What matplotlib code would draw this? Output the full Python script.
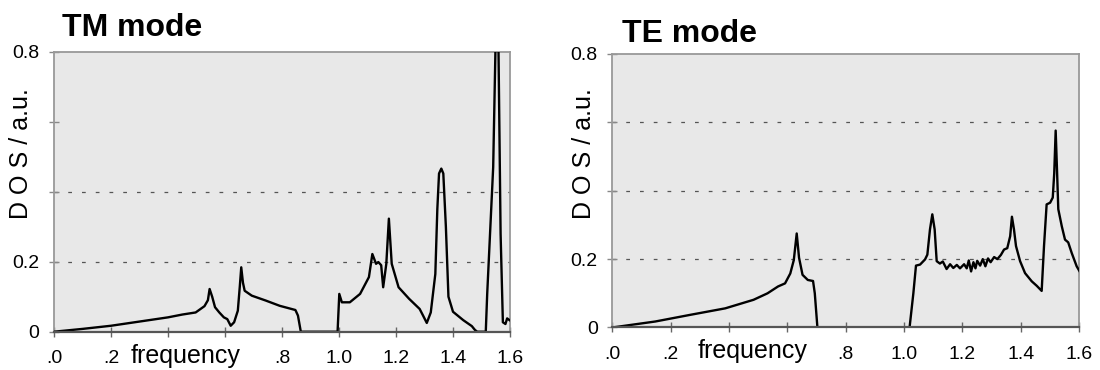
import matplotlib
matplotlib.use("Agg")
import matplotlib.pyplot as plt

plt.rcParams["font.family"] = ["Liberation Sans", "DejaVu Sans"]

# TM mode density of states
tm_freq = [0, 0.1, 0.2, 0.3, 0.4, 0.45, 0.497, 0.528, 0.54, 0.546, 0.555, 0.565,
           0.58, 0.596, 0.608, 0.62, 0.632, 0.645, 0.652, 0.657, 0.663, 0.669,
           0.694, 0.743, 0.792, 0.847, 0.856, 0.866, 0.995, 1.001, 1.01, 1.038,
           1.074, 1.105, 1.117, 1.13, 1.138, 1.148, 1.155, 1.166, 1.175, 1.185,
           1.209, 1.246, 1.283, 1.295, 1.308, 1.322, 1.338, 1.345, 1.351, 1.359,
           1.366, 1.375, 1.384, 1.4, 1.436, 1.466, 1.477, 1.485, 1.515, 1.52,
           1.541, 1.55, 1.559, 1.567, 1.575, 1.584, 1.59, 1.6, 1.605]
tm_dos = [0, 0.008, 0.017, 0.029, 0.041, 0.049, 0.055, 0.073, 0.09, 0.122, 0.1, 0.07,
          0.055, 0.041, 0.036, 0.017, 0.027, 0.06, 0.13, 0.184, 0.14, 0.117,
          0.103, 0.089, 0.074, 0.062, 0.046, 0, 0, 0.108, 0.084, 0.084,
          0.108, 0.156, 0.222, 0.194, 0.199, 0.19, 0.127, 0.194, 0.323, 0.194,
          0.127, 0.094, 0.065, 0.046, 0.025, 0.055, 0.165, 0.35, 0.452, 0.466,
          0.452, 0.3, 0.1, 0.057, 0.033, 0.016, 0.005, 0, 0, 0.108,
          0.47, 0.85, 0.85, 0.28, 0.027, 0.022, 0.038, 0.032, 0.034]

# TE mode density of states
te_freq = [0, 0.147, 0.267, 0.387, 0.484, 0.532, 0.568, 0.592, 0.61, 0.622, 0.632,
           0.64, 0.652, 0.67, 0.688, 0.694, 0.703, 1.019, 1.032, 1.041, 1.055,
           1.072, 1.08, 1.089, 1.097, 1.105, 1.112, 1.123, 1.133, 1.146, 1.158,
           1.169, 1.181, 1.192, 1.206, 1.215, 1.222, 1.23, 1.238, 1.245, 1.251,
           1.261, 1.27, 1.279, 1.288, 1.297, 1.309, 1.32, 1.332, 1.343, 1.354,
           1.364, 1.37, 1.377, 1.384, 1.398, 1.415, 1.438, 1.455, 1.472, 1.48,
           1.489, 1.501, 1.51, 1.515, 1.52, 1.525, 1.529, 1.541, 1.552, 1.563,
           1.575, 1.592, 1.609]
te_dos = [0, 0.0175, 0.037, 0.056, 0.081, 0.1, 0.12, 0.129, 0.158, 0.197, 0.275,
          0.204, 0.154, 0.139, 0.136, 0.1, 0, 0, 0.1, 0.181, 0.184,
          0.199, 0.213, 0.287, 0.331, 0.287, 0.194, 0.187, 0.193, 0.171, 0.185,
          0.174, 0.183, 0.173, 0.185, 0.173, 0.196, 0.164, 0.191, 0.173, 0.195,
          0.181, 0.2, 0.179, 0.202, 0.191, 0.206, 0.2, 0.212, 0.228, 0.232,
          0.267, 0.324, 0.287, 0.238, 0.194, 0.159, 0.135, 0.122, 0.107, 0.238,
          0.36, 0.365, 0.38, 0.45, 0.576, 0.45, 0.346, 0.296, 0.257, 0.249,
          0.218, 0.179, 0.154]

x_ticks = [0, 0.2, 0.4, 0.6, 0.8, 1.0, 1.2, 1.4, 1.6]
x_labels = [".0", ".2", "", "", ".8", "1.0", "1.2", "1.4", "1.6"]
y_ticks = [0, 0.2, 0.4, 0.6, 0.8]
y_labels = ["0", "0.2", "", "", "0.8"]

panels = [
    ("TM mode", tm_freq, tm_dos, [0.2, 0.4],
     [54 / 1100, 0.1035, 456 / 1100, 0.7568], 0.46, (62, 36), 21),
    ("TE mode", te_freq, te_dos, [0.2, 0.4, 0.6],
     [612.4 / 1100, 0.1149, 466.6 / 1100, 0.7392], 0.481, (622, 42), 584),
]

fig = plt.figure(figsize=(11, 3.7), dpi=100)

for title, freq, dos, grid_y, rect, flab_x, title_pos, ylab_x in panels:
    ax = fig.add_axes(rect)
    ax.set_facecolor("#e8e8e8")
    for gy in grid_y:
        ax.axhline(gy, color="#555555", lw=0.9, dashes=(3, 8), zorder=1)
    ax.plot(freq, dos, color="black", lw=1.7, zorder=3)
    ax.set_xlim(0, 1.6)
    ax.set_ylim(0, 0.8)
    ax.set_xticks(x_ticks)
    ax.set_xticklabels(x_labels)
    ax.set_yticks(y_ticks)
    ax.set_yticklabels(y_labels)
    ax.tick_params(axis="x", direction="inout", length=7, width=1, color="#666666",
                   labelsize=14, pad=10)
    ax.tick_params(axis="y", direction="inout", length=7, width=1, color="#888888",
                   labelsize=14, pad=7)
    for side in ["top", "right", "left"]:
        ax.spines[side].set_color("#999999")
        ax.spines[side].set_linewidth(1.3)
    ax.spines["bottom"].set_color("#555555")
    ax.spines["bottom"].set_linewidth(1.6)
    ax.spines["bottom"].set_zorder(4)

    ax.text(flab_x, -0.112, "frequency", transform=ax.get_xaxis_transform(),
            ha="center", va="baseline", fontsize=18)
    fig.text(title_pos[0] / 1100, 1 - title_pos[1] / 370, title,
             fontsize=23, fontweight="bold", ha="left", va="baseline")
    fig.text(ylab_x / 1100, 0.585, "D O S / a.u.", rotation=90,
             fontsize=18, ha="center", va="center")

fig.savefig("out.png", dpi=100)
